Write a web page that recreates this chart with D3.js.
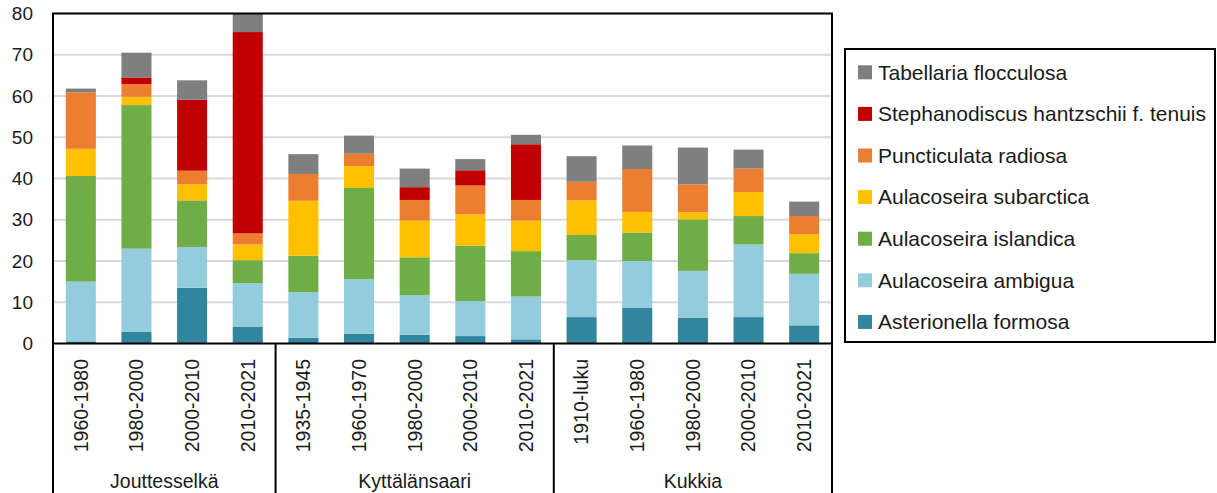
<!DOCTYPE html>
<html><head><meta charset="utf-8">
<script src="https://cdn.jsdelivr.net/npm/d3@7"></script>
<style>
html,body{margin:0;padding:0;background:#fff;}
svg text{font-family:"Liberation Sans",Arial,sans-serif;fill:#1a1a1a;}
</style></head>
<body><svg id="c" width="1217" height="493"></svg>
<script>
// ---- data ----
const groups = ["Jouttesselkä","Kyttälänsaari","Kukkia"];
const periods = [
  ["1960-1980","1980-2000","2000-2010","2010-2021"],
  ["1935-1945","1960-1970","1980-2000","2000-2010","2010-2021"],
  ["1910-luku","1960-1980","1980-2000","2000-2010","2010-2021"]
];
const species = ["Asterionella formosa","Aulacoseira ambigua","Aulacoseira islandica","Aulacoseira subarctica","Puncticulata radiosa","Stephanodiscus hantzschii f. tenuis","Tabellaria flocculosa"];
const colors = ["#31859c","#93cddd","#70ad47","#ffc000","#ed7d31","#c00000","#7f7f7f"];
const asterionella   = [0.5, 2.9,13.5, 4.0, 1.4, 2.4, 2.1, 1.8, 1.0, 6.4, 8.6, 6.3, 6.4, 4.4];
const ambigua        = [14.5,20.1, 9.9,10.6,11.0,13.2, 9.6, 8.5,10.4,13.8,11.4,11.3,17.6,12.5];
const islandica      = [25.6,34.8,11.3, 5.6, 8.9,22.1, 9.2,13.4,11.0, 6.1, 6.9,12.5, 6.9, 5.0];
const subarctica     = [6.6, 2.0, 3.9, 3.8,13.3, 5.3, 8.9, 7.6, 7.4, 8.4, 5.0, 1.7, 5.8, 4.6];
const puncticulata   = [13.7, 3.1, 3.3, 2.7, 6.5, 3.0, 5.0, 7.0, 5.0, 4.5,10.4, 6.8, 5.7, 4.4];
const stephanodiscus = [0, 1.6,17.2,48.8, 0, 0, 3.1, 3.7,13.5, 0, 0, 0, 0, 0];
const tabellaria     = [0.9, 6.0, 4.7, 4.5, 4.8, 4.4, 4.5, 2.7, 2.3, 6.2, 5.7, 8.9, 4.6, 3.5];
const yTicks = [0,10,20,30,40,50,60,70,80];

// ---- build table ----
const series = [asterionella,ambigua,islandica,subarctica,puncticulata,stephanodiscus,tabellaria];
const rows = [];
groups.forEach((g,gi)=>periods[gi].forEach(p=>rows.push({id:g+"|"+p,group:g,period:p})));
rows.forEach((r,i)=>species.forEach((s,si)=>r[s]=series[si][i]));

const svg = d3.select("#c");
const L=53, R=832, T=13.5, B=343.5;
const x = d3.scaleBand().domain(rows.map(r=>r.id)).range([L,R]).paddingInner(0.46).paddingOuter(0.23);
const y = d3.scaleLinear().domain([0,80]).range([B,T]);
const color = d3.scaleOrdinal().domain(species).range(colors);

// gridlines
svg.append("g").selectAll("line").data(yTicks.filter(t=>t>0&&t<80)).join("line")
  .attr("x1",L).attr("x2",R).attr("y1",d=>y(d)).attr("y2",d=>y(d))
  .attr("stroke","#d9d9d9").attr("stroke-width",2);

// clip
svg.append("clipPath").attr("id","pc").append("rect").attr("x",L).attr("y",T).attr("width",R-L).attr("height",B-T);

const stack = d3.stack().keys(species)(rows);
svg.append("g").attr("clip-path","url(#pc)").selectAll("g").data(stack).join("g")
  .attr("fill",d=>color(d.key))
  .selectAll("rect").data(d=>d).join("rect")
  .attr("x",d=>x(d.data.id)).attr("width",x.bandwidth())
  .attr("y",d=>y(d[1])).attr("height",d=>Math.max(0,y(d[0])-y(d[1])));

// frame
svg.append("rect").attr("x",L).attr("y",T).attr("width",R-L).attr("height",B-T)
  .attr("fill","none").attr("stroke","#000").attr("stroke-width",2);

// y axis
const ya = svg.append("g").attr("transform",`translate(${L},0)`)
  .call(d3.axisLeft(y).tickValues(yTicks).tickSize(0).tickPadding(20));
ya.select(".domain").remove();
ya.selectAll("text").style("font-size","19px").attr("fill","#1a1a1a").style("font-family","'Liberation Sans',Arial,sans-serif");

// x tick labels
svg.append("g").selectAll("text").data(rows).join("text")
  .attr("transform",d=>`translate(${x(d.id)+x.bandwidth()/2},359) rotate(-90)`)
  .attr("text-anchor","end").attr("dy","0.35em").style("font-size","19.5px")
  .text(d=>d.period);

// group separators and labels
const step = x.step();
let idx=0;
const bounds=[L];
groups.forEach((g,gi)=>{
  const first = rows[idx], last = rows[idx+periods[gi].length-1];
  const x0 = gi===0?L:x(first.id)+x.bandwidth()/2-step/2;
  const x1 = gi===groups.length-1?R:x(last.id)+x.bandwidth()/2+step/2;
  bounds.push(x1);
  svg.append("text").attr("x",(x0+x1)/2).attr("y",488).attr("text-anchor","middle")
    .style("font-size","19.5px").text(g);
  idx+=periods[gi].length;
});
svg.append("g").selectAll("line").data(bounds).join("line")
  .attr("x1",d=>d).attr("x2",d=>d).attr("y1",B).attr("y2",493)
  .attr("stroke","#000").attr("stroke-width",2);

// legend
const lg = svg.append("g");
lg.append("rect").attr("x",845).attr("y",49).attr("width",370).attr("height",293)
  .attr("fill","none").attr("stroke","#000").attr("stroke-width",2);
const legOrder = species.slice().reverse();
const li = lg.selectAll("g.it").data(legOrder).join("g").attr("class","it")
  .attr("transform",(d,i)=>`translate(858,${72.3+i*41.6})`);
li.append("rect").attr("x",0).attr("y",-7).attr("width",14).attr("height",14).attr("fill",d=>color(d));
li.append("text").attr("x",20).attr("dy","0.35em").style("font-size","21px").text(d=>d);
</script></body></html>
